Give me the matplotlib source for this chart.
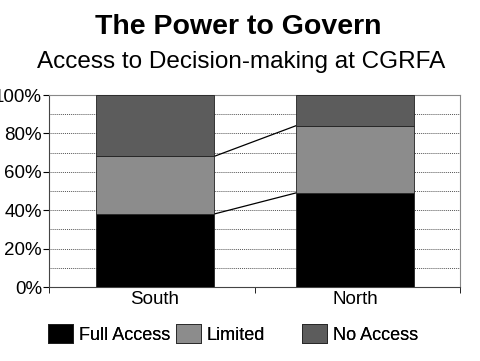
import matplotlib
matplotlib.use('Agg')
import matplotlib.pyplot as plt
import numpy as np

plt.rcParams['font.family'] = ['Liberation Sans', 'DejaVu Sans']

regions = ['South', 'North']
full_access = [38, 49]
limited = [30, 35]
no_access = [32, 16]
series_names = ['Full Access', 'Limited', 'No Access']
colors = ['#000000', '#8c8c8c', '#5c5c5c']

fig = plt.figure(figsize=(4.8, 3.61), dpi=100)
ax = fig.add_axes([49/480, 1-287/361, 411/480, 192/361])

x = np.arange(len(regions))
w = 0.59
bottom = np.zeros(len(regions))
bars = []
for vals, c, name in zip([full_access, limited, no_access], colors, series_names):
    b = ax.bar(x, vals, w, bottom=bottom, color=c, edgecolor='#222222', linewidth=0.6, label=name, zorder=3)
    bars.append(b)
    bottom = bottom + np.array(vals)

# series lines between the stacks
cum = np.cumsum([full_access, limited], axis=0)
for level in cum:
    ax.plot([x[0]+w/2, x[1]-w/2], [level[0], level[1]], color='black', lw=0.9, zorder=2)

ax.set_xlim(-0.53, 1.525)
ax.set_ylim(0, 100)
ax.set_yticks(np.arange(0, 101, 20))
ax.set_yticks(np.arange(0, 101, 10), minor=True)
ax.set_yticklabels(['%d%%' % v for v in range(0, 101, 20)], fontsize=13.5)
ax.tick_params(axis='y', which='minor', length=0)
ax.tick_params(axis='y', which='major', length=4, direction='out', pad=1)
ax.grid(axis='y', which='both', linestyle=(0, (1, 1)), color='#555555', lw=0.7, zorder=0)
ax.set_xticks([-0.53, 0.5, 1.525], minor=True)
ax.set_xticks(x)
ax.set_xticklabels(regions, fontsize=13.5)
ax.tick_params(axis='x', which='major', length=0, pad=3)
ax.tick_params(axis='x', which='minor', length=4, direction='out')
for s in ['top', 'right']:
    ax.spines[s].set_color('#888888')
for s in ['left', 'bottom']:
    ax.spines[s].set_color('#444444')

fig.text(238/480, 1-27/361, 'The Power to Govern', ha='center', va='center', fontsize=20.5, fontweight='bold')
fig.text(241/480, 1-62/361, 'Access to Decision-making at CGRFA', ha='center', va='center', fontsize=17.5)

# legend entries placed one by one (uneven spacing as in the original)
leg_x = [48, 176, 302]
for b, name, lx in zip(bars, series_names, leg_x):
    leg = fig.legend(handles=[b], labels=[name], loc='center left', bbox_to_anchor=(lx/480, 1-334/361),
                     frameon=False, fontsize=13, handlelength=1.39, handleheight=1.22,
                     handletextpad=0.3, borderpad=0, borderaxespad=0)
    fig.add_artist(leg)

fig.savefig('out.png', dpi=100)
